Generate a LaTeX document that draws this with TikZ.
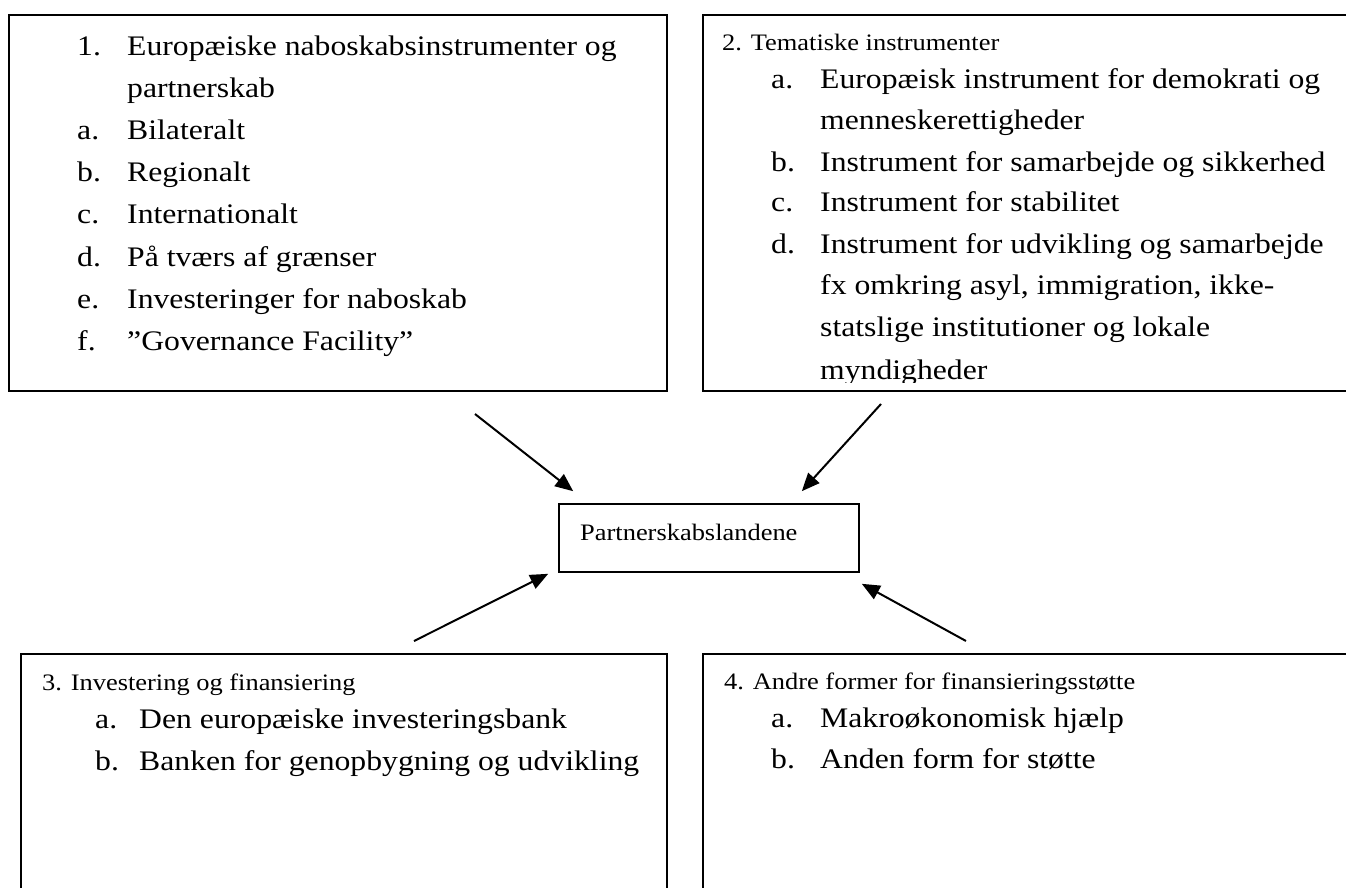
\documentclass[tikz,border=0pt]{standalone}
\usepackage{fontspec}
\setmainfont{Liberation Serif}[FakeStretch=1.12]
\usetikzlibrary{arrows.meta,calc}

\begin{document}
\begin{tikzpicture}[x=1pt, y=-1pt,
    panel/.style={draw, line width=1.6pt, inner sep=0pt},
    entry/.style={anchor=base west, inner sep=0pt, font=\fontsize{28.3}{34}\selectfont},
    heading/.style={anchor=base west, inner sep=0pt, font=\fontsize{23.6}{28}\selectfont},
    link/.style={-{Triangle[length=18pt, width=15pt]}, line width=2pt}]
    \clip (0,0) rectangle (1346,887);

    \node[panel, minimum width=658pt, minimum height=376pt] (nabo) at (338,203) {};
    \node[panel, minimum width=700pt, minimum height=376pt] (tema) at (1053,203) {};
    \node[panel, minimum width=646pt, minimum height=300pt] (invest) at (344,804) {};
    \node[panel, minimum width=700pt, minimum height=300pt] (andre) at (1053,804) {};
    \node[panel, minimum width=300pt, minimum height=68pt] (hub) at (709,538) {};
    \node[heading] (hubtext) at (580,540) {Partnerskabslandene};

    \node[entry] (nabonum) at (77,55) {1.};
    \node[entry] (nabotitle) at (127,55) {Europæiske naboskabsinstrumenter og};
    \node[entry] (nabotitle2) at (127,97) {partnerskab};
    \node[entry] (naboa) at (77,139) {a.};
    \node[entry] (naboatext) at (127,139) {Bilateralt};
    \node[entry] (nabob) at (77,181) {b.};
    \node[entry] (nabobtext) at (127,181) {Regionalt};
    \node[entry] (naboc) at (77,223) {c.};
    \node[entry] (naboctext) at (127,223) {Internationalt};
    \node[entry] (nabod) at (77,266) {d.};
    \node[entry] (nabodtext) at (127,266) {På tværs af grænser};
    \node[entry] (naboe) at (77,308) {e.};
    \node[entry] (naboetext) at (127,308) {Investeringer for naboskab};
    \node[entry] (nabof) at (77,350) {f.};
    \node[entry] (naboftext) at (127,350) {”Governance Facility”};

    \begin{scope}
        \clip (703,15) rectangle (1346,382);
        \node[heading] (temahead) at (722,50) {2. Tematiske instrumenter};
        \node[entry] (temaa) at (771,88) {a.};
        \node[entry] (temaatext) at (820,88) {Europæisk instrument for demokrati og};
        \node[entry] (temaatext2) at (820,129) {menneskerettigheder};
        \node[entry] (temab) at (771,171) {b.};
        \node[entry] (temabtext) at (820,171) {Instrument for samarbejde og sikkerhed};
        \node[entry] (temac) at (771,211) {c.};
        \node[entry] (temactext) at (820,211) {Instrument for stabilitet};
        \node[entry] (temad) at (771,253) {d.};
        \node[entry] (temadtext) at (820,253) {Instrument for udvikling og samarbejde};
        \node[entry] (temadtext2) at (820,294) {fx omkring asyl, immigration, ikke-};
        \node[entry] (temadtext3) at (820,336) {statslige institutioner og lokale};
        \node[entry] (temadtext4) at (820,379) {myndigheder};
    \end{scope}

    \node[heading] (investhead) at (42,690) {3. Investering og finansiering};
    \node[entry] (investa) at (95,728) {a.};
    \node[entry] (investatext) at (139,728) {Den europæiske investeringsbank};
    \node[entry] (investb) at (95,770) {b.};
    \node[entry] (investbtext) at (139,770) {Banken for genopbygning og udvikling};

    \node[heading] (andrehead) at (724,689) {4. Andre former for finansieringsstøtte};
    \node[entry] (andrea) at (771,727) {a.};
    \node[entry] (andreatext) at (820,727) {Makroøkonomisk hjælp};
    \node[entry] (andreb) at (771,768) {b.};
    \node[entry] (andrebtext) at (820,768) {Anden form for støtte};

    \coordinate (fromnabo) at (475,414);
    \coordinate (fromtema) at (881,404);
    \coordinate (frominvest) at (414,641);
    \coordinate (fromandre) at (966,641);

    \draw[link] (fromnabo) -- ($(hub.north west)+(15,-12)$);
    \draw[link] (fromtema) -- ($(hub.north east)+(-58,-12)$);
    \draw[link] (frominvest) -- ($(hub.south west)+(-10,1)$);
    \draw[link] (fromandre) -- ($(hub.south east)+(2,11)$);
\end{tikzpicture}
\end{document}
